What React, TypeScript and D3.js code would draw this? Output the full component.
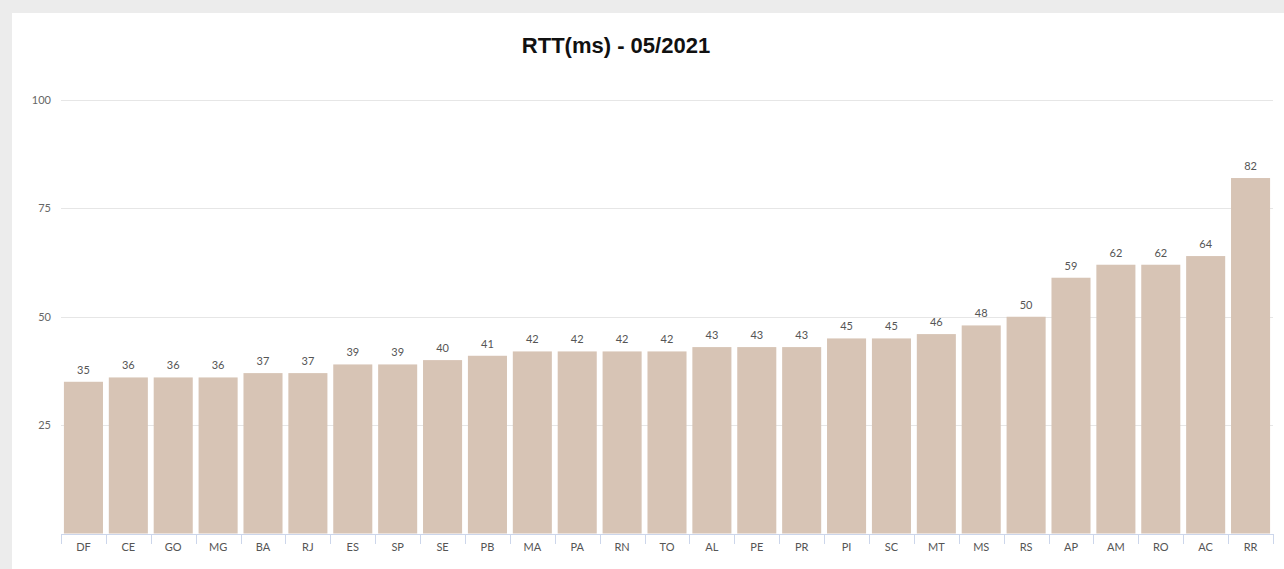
import React from "react";
import * as d3 from "d3";

const states = ["DF", "CE", "GO", "MG", "BA", "RJ", "ES", "SP", "SE", "PB", "MA", "PA", "RN", "TO", "AL", "PE", "PR", "PI", "SC", "MT", "MS", "RS", "AP", "AM", "RO", "AC", "RR"];
const rtt = [35, 36, 36, 36, 37, 37, 39, 39, 40, 41, 42, 42, 42, 42, 43, 43, 43, 45, 45, 46, 48, 50, 59, 62, 62, 64, 82];
const yTicks = [25, 50, 75, 100];

const width = 1284;
const height = 569;
const margin = { top: 100, right: 11, bottom: 36, left: 61 };
const font = "Lato, 'Open Sans', sans-serif";

const App: React.FC = () => {
  const x = d3
    .scaleBand()
    .domain(states)
    .range([margin.left, width - margin.right])
    .paddingInner(0.13)
    .paddingOuter(0.065);

  const y = d3
    .scaleLinear()
    .domain([0, 100])
    .range([height - margin.bottom + 0.5, margin.top]);

  const step = x.step();
  const half = (step * 0.13) / 2;
  // tick marks sit on the band boundaries
  const tickXs = states.map((s) => x(s)! - half);
  tickXs.push(width - margin.right);
  const base = y(0);

  return (
    <svg
      width={width}
      height={height}
      style={{ position: "absolute", left: 0, top: 0, fontFamily: font }}
    >
      <rect x={0} y={0} width={width} height={height} fill="#ececec" />
      <rect x={12} y={13} width={width - 12} height={height - 13} fill="#ffffff" />
      <text
        x={616}
        y={53}
        textAnchor="middle"
        fontSize={22}
        fontWeight="bold"
        fill="#111"
        style={{ fontFamily: "'Liberation Sans', Arial, sans-serif" }}
      >
        RTT(ms) - 05/2021
      </text>

      {yTicks.map((t) => (
        <g key={t}>
          <line
            x1={margin.left}
            x2={width - margin.right}
            y1={Math.round(y(t)) + 0.5}
            y2={Math.round(y(t)) + 0.5}
            stroke="#e6e6e6"
          />
          <text x={51} y={y(t) + 4} textAnchor="end" fontSize={11} fill="#666">
            {t}
          </text>
        </g>
      ))}

      {states.map((s, i) => (
        <g key={s}>
          <rect
            x={x(s)}
            y={y(rtt[i])}
            width={x.bandwidth()}
            height={base - y(rtt[i])}
            fill="#d7c4b5"
          />
          <text
            x={x(s)! + x.bandwidth() / 2}
            y={y(rtt[i]) - 8}
            textAnchor="middle"
            fontSize={11}
            fill="#555"
          >
            {rtt[i]}
          </text>
          <text
            x={x(s)! + x.bandwidth() / 2}
            y={551}
            textAnchor="middle"
            fontSize={11}
            fill="#555"
          >
            {s}
          </text>
        </g>
      ))}

      <line
        x1={margin.left}
        x2={width - margin.right}
        y1={Math.round(base) + 0.5}
        y2={Math.round(base) + 0.5}
        stroke="#ccd6eb"
      />
      {tickXs.map((tx, i) => (
        <line
          key={i}
          x1={Math.round(tx) + 0.5}
          x2={Math.round(tx) + 0.5}
          y1={Math.round(base)}
          y2={Math.round(base) + 10}
          stroke="#ccd6eb"
        />
      ))}
    </svg>
  );
};

export default App;
